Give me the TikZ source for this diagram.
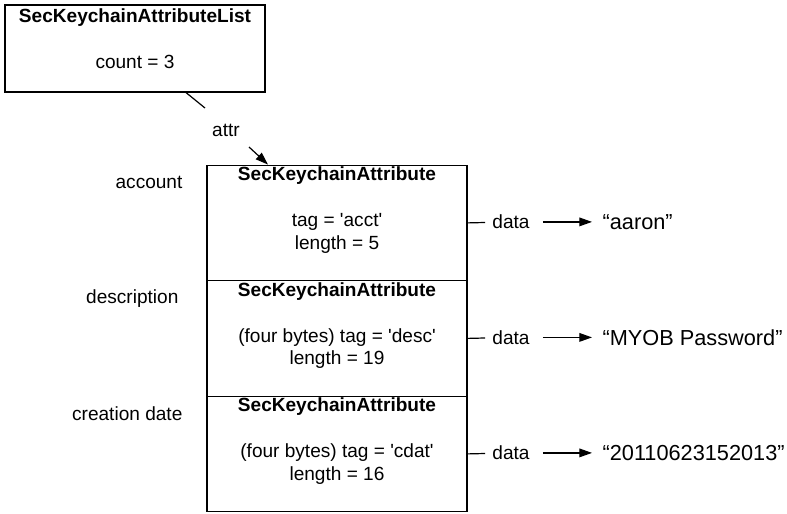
\documentclass[tikz,border=0pt]{standalone}
\usepackage{fontspec}
\setmainfont{Liberation Sans}
\usepackage{tikz}
\usetikzlibrary{arrows.meta, positioning, calc}

\begin{document}
\begin{tikzpicture}[x=0.75pt, y=-0.75pt, line width=0.9pt,
    every node/.style={font=\fontsize{14.3}{17}\selectfont, inner sep=0pt},
    recbox/.style={draw, minimum width=195pt, minimum height=86.6pt},
    titletext/.style={font=\fontsize{14.3}{17}\selectfont\bfseries},
    valtext/.style={font=\fontsize{16.3}{19}\selectfont, anchor=west},
    ptr/.style={-{Triangle[length=9.5pt, width=6.5pt]}}]
    \useasboundingbox (0, 0) rectangle (787, 513);

    \node[recbox, minimum height=65.2pt] (list) at (135, 48.5) {};
    \node[titletext] (listtitle) at (135, 18) {SecKeychainAttributeList};
    \node (listcount) at (135, 62) {count = 3};

    \node (attr) at (226, 130) {attr};
    \coordinate (attrin) at (205, 108);
    \coordinate (attrout) at (249, 147);

    \foreach \i/\yc/\lx/\lbl/\tag/\len/\val in {
        1/222.9/183/account/{tag = \textquotesingle acct\textquotesingle}/5/{“aaron”},
        2/338.4/179/description/{(four bytes) tag = \textquotesingle desc\textquotesingle}/19/{“MYOB Password”},
        3/453.9/183/creation date/{(four bytes) tag = \textquotesingle cdat\textquotesingle}/16/{“20110623152013”}} {
        \node[recbox] (box\i) at (337, \yc) {};
        \node[titletext] (title\i) at (337, \yc-47) {SecKeychainAttribute};
        \node (tag\i) at (337, \yc-1) {\tag};
        \node (len\i) at (337, \yc+21.5) {length = \len};
        \node[anchor=east] (name\i) at (\lx, \yc-40) {\lbl};
        \node (data\i) at (511, \yc-1) {data};
        \node[valtext] (val\i) at (602, \yc-1) {\val};
        \draw[shorten >=5pt] (box\i.east) -- (data\i);
        \draw[ptr, shorten <=9.5pt, shorten >=7.5pt] (data\i) -- (val\i);
    }

    \draw (list.south) ++(51, 0) -- (attrin);
    \draw[ptr] (attrout) -- ($(box1.north)+(-69, 0)$);
\end{tikzpicture}
\end{document}
